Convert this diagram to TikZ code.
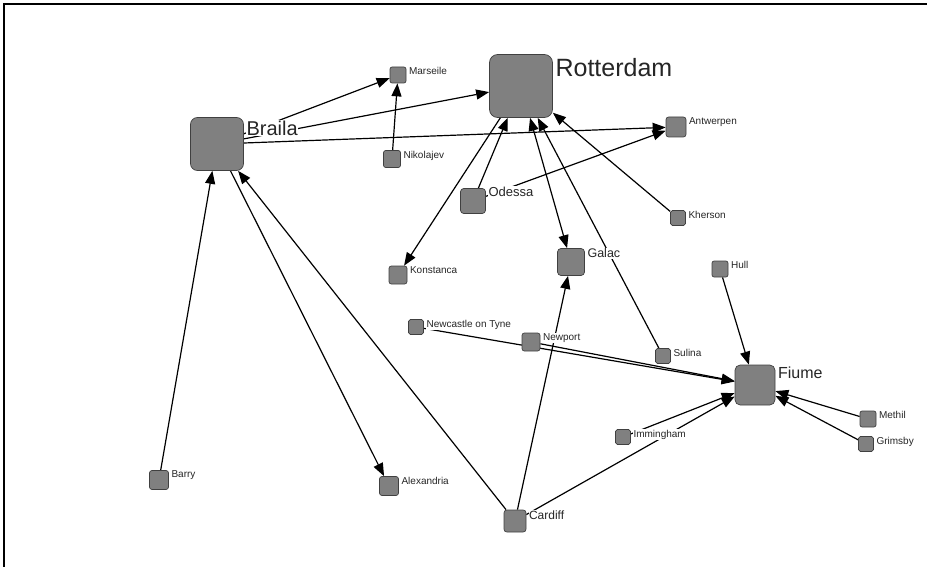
\documentclass[tikz,border=0pt]{standalone}
\usepackage{fontspec}
\setmainfont{Liberation Sans}
\usetikzlibrary{arrows.meta}
\usetikzlibrary{backgrounds}

\begin{document}
\begin{tikzpicture}[x=1pt, y=-1pt,
	port/.style={draw=black!75, fill=black!50, line width=0.7pt, minimum size=#1, inner sep=0pt, rounded corners=0.13*#1},
	tag/.style={anchor=north west, xshift=2pt, fill=white, inner sep=0.5pt, text=black!85, font=\fontsize{#1}{#1}\selectfont},
	link/.style={line width=1.2pt, -{Triangle[length=13pt, width=10pt]}},
	twoway/.style={line width=1.2pt, {Triangle[length=13pt, width=10pt]}-{Triangle[length=13pt, width=10pt]}}]
	\useasboundingbox (0,0) rectangle (927,567);

	% Frame
	\draw[line width=2pt] (4,567) -- (4,4) -- (927,4);

	% Big ports
	\node[port=63pt, label={[tag=25, yshift=-3.5pt]north east:Rotterdam}] (rotterdam) at (521,86) {};
	\node[port=53pt, label={[tag=20, yshift=-3pt]north east:Braila}] (braila) at (217,144) {};
	\node[port=40pt, label={[tag=16, yshift=-1.5pt]north east:Fiume}] (fiume) at (755,385) {};
	\node[port=27pt, label={[tag=12.5]north east:Galac}] (galac) at (571,262) {};
	\node[port=25pt, label={[tag=13, yshift=2pt]north east:Odessa}] (odessa) at (473,201) {};
	\node[port=22pt, label={[tag=12]north east:Cardiff}] (cardiff) at (515,521) {};

	% Small ports
	\node[port=16pt, label={[tag=10]north east:Marseile}] (marseile) at (398,75) {};
	\node[port=17pt, label={[tag=10]north east:Nikolajev}] (nikolajev) at (392,159) {};
	\node[port=20pt, label={[tag=10]north east:Antwerpen}] (antwerpen) at (676,127) {};
	\node[port=15pt, label={[tag=10]north east:Kherson}] (kherson) at (678,218) {};
	\node[port=16pt, label={[tag=10]north east:Hull}] (hull) at (720,269) {};
	\node[port=18pt, label={[tag=10]north east:Konstanca}] (konstanca) at (398,275) {};
	\node[port=15pt, label={[tag=10]north east:Newcastle on Tyne}] (newcastle) at (416,327) {};
	\node[port=18pt, label={[tag=10]north east:Newport}] (newport) at (531,342) {};
	\node[port=15pt, label={[tag=10]north east:Sulina}] (sulina) at (663,356) {};
	\node[port=16pt, label={[tag=10]north east:Methil}] (methil) at (868,419) {};
	\node[port=15pt, label={[tag=10]north east:Grimsby}] (grimsby) at (866,444) {};
	\node[port=15pt, label={[tag=10]north east:Immingham}] (immingham) at (623,437) {};
	\node[port=19pt, label={[tag=10]north east:Barry}] (barry) at (159,480) {};
	\node[port=19pt, label={[tag=10]north east:Alexandria}] (alexandria) at (389,486) {};

	% Links, under the ports and their labels
	\begin{scope}[on background layer]
		\draw[link] (braila) -- (marseile);
		\draw[link] (braila) -- (rotterdam);
		\draw[link] (braila) -- (antwerpen);
		\draw[link] (braila) -- (alexandria);
		\draw[link] (nikolajev) -- (marseile);
		\draw[link] (rotterdam) -- (konstanca);
		\draw[link] (odessa) -- (rotterdam);
		\draw[link] (odessa) -- (antwerpen);
		\draw[twoway] (rotterdam) -- (galac);
		\draw[link] (sulina) -- (rotterdam);
		\draw[link] (kherson) -- (rotterdam);
		\draw[link] (barry) -- (braila);
		\draw[link] (cardiff) -- (braila);
		\draw[link] (cardiff) -- (galac);
		\draw[link] (cardiff) -- (fiume);
		\draw[link] (immingham) -- (fiume);
		\draw[link] (newcastle) -- (fiume);
		\draw[link] (newport) -- (fiume);
		\draw[link] (hull) -- (fiume);
		\draw[link] (methil) -- (fiume);
		\draw[link] (grimsby) -- (fiume);
	\end{scope}
\end{tikzpicture}
\end{document}
